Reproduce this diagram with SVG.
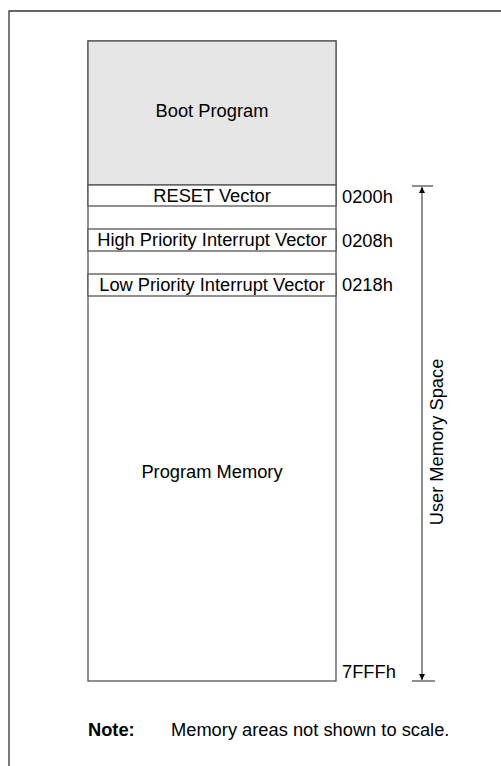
<svg xmlns="http://www.w3.org/2000/svg" width="501" height="766" viewBox="0 0 501 766">
  <style>
    text { font-family: "Liberation Sans", Arial, sans-serif; font-size: 18.3px; fill: #000; }
    .mid { text-anchor: middle; }
    .box { stroke: #555; stroke-width: 1.3; fill: #fff; }
    .frame { stroke: #333; stroke-width: 1.3; fill: none; }
    .line { stroke: #444; stroke-width: 1.2; fill: none; }
  </style>
  <defs>
    <marker id="arrow" viewBox="0 0 10 10" refX="10" refY="5" markerWidth="6" markerHeight="8" orient="auto" markerUnits="userSpaceOnUse">
      <path d="M0,0 L10,5 L0,10 z" fill="#000"/>
    </marker>
  </defs>
  <rect width="501" height="766" fill="#fff"/>
  <!-- page frame -->
  <path class="frame" d="M9,766 V11 H501"/>

  <!-- memory map column -->
  <g id="program-memory">
    <rect class="box" x="88" y="41" width="248" height="640"/>
    <text class="mid" x="212" y="478">Program Memory</text>
  </g>
  <g id="boot-program">
    <rect x="88" y="41" width="248" height="144" fill="#e6e6e6" stroke="#555" stroke-width="1.3"/>
    <text class="mid" x="212" y="117">Boot Program</text>
  </g>
  <g id="reset-vector">
    <rect class="box" x="88" y="185" width="248" height="21"/>
    <text class="mid" x="212" y="202">RESET Vector</text>
    <text x="342" y="203">0200h</text>
  </g>
  <g id="high-priority-vector">
    <rect class="box" x="88" y="229" width="248" height="22"/>
    <text class="mid" x="212" y="246">High Priority Interrupt Vector</text>
    <text x="342" y="247">0208h</text>
  </g>
  <g id="low-priority-vector">
    <rect class="box" x="88" y="274" width="248" height="22"/>
    <text class="mid" x="212" y="291">Low Priority Interrupt Vector</text>
    <text x="342" y="291">0218h</text>
  </g>
  <g id="end-address">
    <text x="342" y="678">7FFFh</text>
  </g>

  <!-- user memory space span -->
  <g id="connectors">
    <line class="line" x1="412" y1="186" x2="433" y2="186"/>
    <line class="line" x1="412" y1="681" x2="435" y2="681"/>
    <line class="line" x1="422" y1="433" x2="422" y2="187" marker-end="url(#arrow)"/>
    <line class="line" x1="422" y1="433" x2="422" y2="680" marker-end="url(#arrow)"/>
  </g>
  <g id="user-memory-space">
    <text class="mid" transform="translate(443,442) rotate(-90)">User Memory Space</text>
  </g>

  <!-- footnote -->
  <g id="note">
    <text x="88" y="736" font-weight="bold">Note:</text>
    <text x="171" y="736">Memory areas not shown to scale.</text>
  </g>
</svg>
